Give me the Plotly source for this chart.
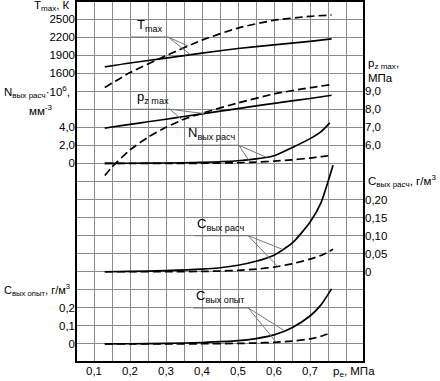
import numpy as np
import plotly.graph_objects as go

# ---------------- data ----------------
pe_T = [0.13, 0.2, 0.3, 0.4, 0.5, 0.6, 0.7, 0.76]
T_solid = [1705, 1770, 1850, 1935, 2010, 2070, 2130, 2170]
T_dashed = [1361, 1610, 1890, 2150, 2350, 2480, 2545, 2567]

pe_pz = [0.13, 0.15, 0.2, 0.25, 0.3, 0.35, 0.4, 0.5, 0.6, 0.7, 0.76]
pz_solid = [6.96, 7.02, 7.16, 7.31, 7.45, 7.60, 7.75, 8.04, 8.33, 8.60, 8.78]
pz_dashed = [4.33, 4.80, 5.75, 6.45, 7.00, 7.45, 7.78, 8.35, 8.85, 9.20, 9.37]

pe_N = [0.13, 0.2, 0.3, 0.4, 0.5, 0.55, 0.6, 0.65, 0.7, 0.73, 0.755]
N_solid = [0, 0.02, 0.05, 0.12, 0.3, 0.5, 0.85, 1.75, 2.75, 3.5, 4.5]
N_dashed = [0, 0, 0, 0.02, 0.08, 0.15, 0.25, 0.4, 0.6, 0.75, 0.9]

pe_Cr = [0.13, 0.2, 0.3, 0.4, 0.45, 0.5, 0.55, 0.6, 0.65, 0.7, 0.73, 0.764]
Cr_solid = [0, 0.001, 0.003, 0.007, 0.011, 0.018, 0.029, 0.046, 0.079, 0.137, 0.19, 0.295]
Cr_dashed = [0, 0, 0, 0.001, 0.002, 0.004, 0.007, 0.013, 0.022, 0.035, 0.045, 0.062]

pe_Ce = [0.13, 0.2, 0.3, 0.4, 0.5, 0.55, 0.6, 0.65, 0.7, 0.73, 0.76]
Ce_solid = [0, 0.001, 0.003, 0.008, 0.018, 0.03, 0.05, 0.09, 0.155, 0.215, 0.305]
Ce_dashed = [0, 0, 0, 0.001, 0.003, 0.005, 0.009, 0.016, 0.028, 0.042, 0.063]

x_ticks = [0.1, 0.2, 0.3, 0.4, 0.5, 0.6, 0.7]
T_ticks = [1600, 1900, 2200, 2500]
N_ticks = [0, 2, 4]
pz_ticks = [6, 7, 8, 9]
Cr_ticks = [0, 0.05, 0.10, 0.15, 0.20]
Ce_ticks = [0, 0.1, 0.2]

# ---------------- layout constants ----------------
W, H = 440, 381
L, R, T, B = 76, 76, 1, 19
PW, PH = W - L - R, H - T - B
FONT = "Arial, Liberation Sans, sans-serif"
GRID = "#8c8c8c"

def px(x):
    return (x - L) / PW

def py(y):
    return (H - B - y) / PH

fig = go.Figure()

def add(x, y, axis, dashed):
    fig.add_trace(go.Scatter(
        x=x, y=y, yaxis=axis, mode="lines", showlegend=False,
        line=dict(color="black", width=1.7, shape="spline", smoothing=0.6,
                  dash="8px,4px" if dashed else "solid")))

add(pe_T, T_solid, "y", False)
add(pe_T, T_dashed, "y", True)
add(pe_pz, pz_solid, "y3", False)
add(pe_pz, pz_dashed, "y3", True)
add(pe_N, N_solid, "y2", False)
add(pe_N, N_dashed, "y2", True)
add(pe_Cr, Cr_solid, "y4", False)
add(pe_Cr, Cr_dashed, "y4", True)
add(pe_Ce, Ce_solid, "y5", False)
add(pe_Ce, Ce_dashed, "y5", True)

def fmt(v, d):
    if v == 0:
        return "0"
    return f"{v:.{d}f}".replace(".", ",")

tickfont = dict(family=FONT, size=11.5, color="black")

def sub_axis(rng, side, vals, d):
    return dict(range=rng, overlaying="y", side=side, tickmode="array",
                tickvals=vals, ticktext=[fmt(v, d) for v in vals],
                showgrid=False, zeroline=False, showline=False, ticks="",
                tickfont=tickfont, automargin=False)

fig.update_layout(
    width=W, height=H,
    margin=dict(l=L, r=R, t=T, b=B, autoexpand=False),
    plot_bgcolor="white", paper_bgcolor="white",
    font=dict(family=FONT, color="black"),
    xaxis=dict(range=[0.05, 0.85], tickmode="array", tickvals=x_ticks,
               ticktext=[fmt(v, 1) for v in x_ticks],
               showgrid=True, gridcolor=GRID, gridwidth=1.2, zeroline=False,
               minor=dict(tickmode="linear", tick0=0.05, dtick=0.05, showgrid=True,
                          gridcolor=GRID, gridwidth=1.2, ticks=""),
               showline=False, ticks="", tickfont=tickfont, automargin=False),
    yaxis=dict(range=[-3200, 2800], tickmode="array", tickvals=T_ticks,
               ticktext=[str(v) for v in T_ticks],
               showgrid=True, gridcolor=GRID, gridwidth=1.2, zeroline=False,
               minor=dict(tickmode="linear", tick0=-3200, dtick=300, showgrid=True,
                          gridcolor=GRID, gridwidth=1.2, ticks=""),
               showline=False, ticks="", tickfont=tickfont, automargin=False),
    yaxis2=sub_axis([-22, 18], "left", N_ticks, 1),
    yaxis3=sub_axis([-6, 14], "right", pz_ticks, 1),
    yaxis4=sub_axis([-0.25, 0.75], "right", Cr_ticks, 2),
    yaxis5=sub_axis([-0.1, 1.9], "left", Ce_ticks, 1),
)

# frame
fig.add_shape(type="rect", xref="paper", yref="paper", x0=0, x1=1, y0=0, y1=1,
              line=dict(color="black", width=2), layer="above")

# axis titles
def title(text, x, y, xanchor, size=12):
    fig.add_annotation(text=text, xref="paper", yref="paper", x=px(x), y=py(y),
                       xanchor=xanchor, yanchor="middle", showarrow=False,
                       font=dict(family=FONT, size=size, color="black"))

title("T<sub>max</sub>, К", 72, 6, "right", 11.5)
title("N<sub>вых расч</sub>·10<sup>6</sup>,", 72, 92, "right", 11.5)
title("мм<sup>-3</sup>", 40, 110, "center", 11.5)
title("p<sub>z max</sub>,", 366, 64, "left", 11.5)
title("МПа", 366, 78, "left", 11.5)
title("С<sub>вых расч</sub>, г/м<sup>3</sup>", 366, 181, "left", 11.5)
title("С<sub>вых опыт</sub>, г/м<sup>3</sup>", 72, 290, "right", 11)
title("p<sub>e</sub>, МПа", 331, 372, "left", 11.5)

# curve labels with leader lines
def label(text, axis, x0, x1, yv, sol, dsh, tx):
    yref = axis
    fig.add_shape(type="line", xref="x", yref=yref, x0=x0, x1=x1, y0=yv, y1=yv,
                  line=dict(color="#777777", width=1.2))
    ysol = float(np.interp(sol[0], sol[1], sol[2]))
    ydsh = float(np.interp(dsh[0], dsh[1], dsh[2]))
    fig.add_shape(type="line", xref="x", yref=yref, x0=x1, x1=sol[0], y0=yv, y1=ysol,
                  line=dict(color="#777777", width=1))
    fig.add_shape(type="line", xref="x", yref=yref, x0=x1, x1=dsh[0], y0=yv, y1=ydsh,
                  line=dict(color="#777777", width=1))
    fig.add_annotation(text=text, xref="x", yref=yref, x=tx, y=yv, xanchor="center",
                       yanchor="bottom", yshift=1, showarrow=False,
                       font=dict(family=FONT, size=13, color="black"))

label("T<sub>max</sub>", "y", 0.203, 0.306, 2200,
      (0.368, pe_T, T_solid), (0.362, pe_T, T_dashed), 0.255)
label("p<sub>z max</sub>", "y3", 0.203, 0.311, 8.0,
      (0.405, pe_pz, pz_solid), (0.345, pe_pz, pz_dashed), 0.265)
label("N<sub>вых расч</sub>", "y2", 0.356, 0.503, 2.0,
      (0.578, pe_N, N_solid), (0.533, pe_N, N_dashed), 0.425)
label("С<sub>вых расч</sub>", "y4", 0.378, 0.528, 0.10,
      (0.624, pe_Cr, Cr_solid), (0.610, pe_Cr, Cr_dashed), 0.452)
label("С<sub>вых опыт</sub>", "y5", 0.375, 0.528, 0.2,
      (0.629, pe_Ce, Ce_solid), (0.606, pe_Ce, Ce_dashed), 0.452)

fig.write_html("out.html", config={"displayModeBar": False},
               post_script="document.body.style.margin='0';document.body.style.padding='0';")
